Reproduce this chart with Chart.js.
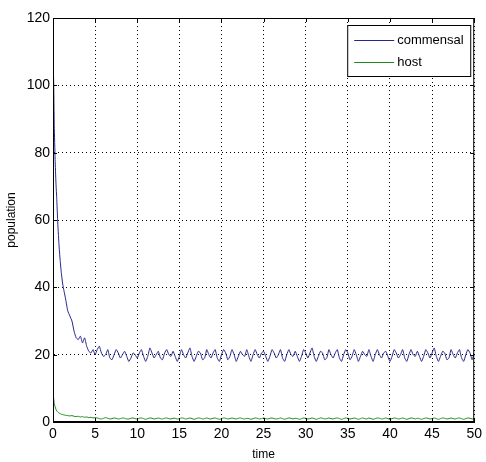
<!DOCTYPE html>
<html>
<head>
<meta charset="utf-8">
<script src="https://cdn.jsdelivr.net/npm/chart.js@4.4.1/dist/chart.umd.min.js"></script>
<style>
  html, body { margin: 0; padding: 0; background: #fff; }
  #wrap { width: 486px; height: 462px; position: relative; }
</style>
</head>
<body>
<div id="wrap"><canvas id="popChart"></canvas></div>
<script>
/* global Chart */

// sample times
const times = [
  0, 0.03, 0.08, 0.15, 0.25, 0.35, 0.45, 0.55, 0.7, 0.85, 1, 1.15, 1.3, 1.5, 1.75, 2, 2.25, 2.5, 2.75, 3, 3.25, 3.5, 3.75, 4, 4.25, 4.5, 4.75, 5,
  5.25, 5.5, 5.75, 6, 6.25, 6.5, 6.75, 7, 7.25, 7.5, 7.75, 8, 8.25, 8.5, 8.75, 9, 9.25, 9.5, 9.75, 10,
  10.25, 10.5, 10.75, 11, 11.25, 11.5, 11.75, 12, 12.25, 12.5, 12.75, 13, 13.25, 13.5, 13.75, 14, 14.25, 14.5, 14.75, 15,
  15.25, 15.5, 15.75, 16, 16.25, 16.5, 16.75, 17, 17.25, 17.5, 17.75, 18, 18.25, 18.5, 18.75, 19, 19.25, 19.5, 19.75, 20,
  20.25, 20.5, 20.75, 21, 21.25, 21.5, 21.75, 22, 22.25, 22.5, 22.75, 23, 23.25, 23.5, 23.75, 24, 24.25, 24.5, 24.75, 25,
  25.25, 25.5, 25.75, 26, 26.25, 26.5, 26.75, 27, 27.25, 27.5, 27.75, 28, 28.25, 28.5, 28.75, 29, 29.25, 29.5, 29.75, 30,
  30.25, 30.5, 30.75, 31, 31.25, 31.5, 31.75, 32, 32.25, 32.5, 32.75, 33, 33.25, 33.5, 33.75, 34, 34.25, 34.5, 34.75, 35,
  35.25, 35.5, 35.75, 36, 36.25, 36.5, 36.75, 37, 37.25, 37.5, 37.75, 38, 38.25, 38.5, 38.75, 39, 39.25, 39.5, 39.75, 40,
  40.25, 40.5, 40.75, 41, 41.25, 41.5, 41.75, 42, 42.25, 42.5, 42.75, 43, 43.25, 43.5, 43.75, 44, 44.25, 44.5, 44.75, 45,
  45.25, 45.5, 45.75, 46, 46.25, 46.5, 46.75, 47, 47.25, 47.5, 47.75, 48, 48.25, 48.5, 48.75, 49, 49.25, 49.5, 49.75, 50
]

const commensal = [
  96, 105, 101, 88, 78, 71, 66, 60, 53, 48, 44, 41, 39, 36.5, 33, 31.5, 30, 27, 25, 24.5, 25.5, 23.5, 25, 22.5, 21, 20.5, 21.5, 20,
  21.5, 22.5, 20.5, 19.5, 20, 21.5, 19, 18.5, 20, 21.5, 20.5, 19, 20, 21, 19.5, 18, 19, 20.5, 20, 19,
  20.5, 21.5, 19.5, 18, 19.5, 22, 20.5, 19, 20, 21, 19, 18.5, 20.5, 21.5, 20, 19.5, 21, 19.5, 18, 19.5,
  21.5, 20, 19, 20.5, 22, 19.5, 18, 19.5, 21, 20.5, 18.5, 19, 21.5, 20, 19, 20.5, 21.5, 19, 18, 20,
  21.5, 20.5, 18.5, 19.5, 21.5, 20, 18, 19.5, 21, 20, 19.5, 21.5, 19.5, 18, 20, 21.5, 20, 19, 20.5, 21,
  19.5, 18, 19.5, 21.5, 20.5, 19, 20, 21.5, 19, 18, 20, 21.5, 20, 19.5, 21, 19.5, 18, 19.5, 21.5, 20.5,
  19, 20.5, 22, 19.5, 18, 19.5, 21, 20.5, 18.5, 19, 21.5, 20, 19, 20.5, 21.5, 19, 18, 20, 21.5, 20.5,
  18.5, 19.5, 21.5, 20, 18, 19.5, 21, 20, 19.5, 21.5, 19.5, 18, 20, 21.5, 20, 19, 20.5, 21, 19.5, 18,
  19.5, 21.5, 20.5, 19, 20, 21.5, 19, 18, 20, 21.5, 20, 19.5, 21, 19.5, 18, 19.5, 21.5, 20.5, 19, 20.5,
  22, 19.5, 18, 19.5, 21, 20.5, 18.5, 19, 21.5, 20, 19, 20.5, 21.5, 19, 18, 20, 21.5, 20.5, 18.5, 20.5
]

const host = [
  10, 8.5, 7, 5.5, 4.5, 3.8, 3.3, 3, 2.7, 2.5, 2.3, 2.2, 2.1, 2, 1.9, 1.8, 1.9, 1.7, 1.6, 1.7, 1.5, 1.6, 1.4, 1.5, 1.3, 1.4, 1.2, 1.3,
  1.2, 1, 0.9, 1.1, 1.3, 1.1, 0.9, 1, 1.2, 1.1, 0.9, 1, 1.2, 1.1, 0.9, 0.9, 1.1, 1.2, 1, 0.9,
  1.1, 1.2, 1, 0.8, 1, 1.2, 1.1, 0.9, 1, 1.2, 1, 0.9, 1.1, 1.2, 1, 0.9, 1.1, 1.1, 0.9, 1,
  1.2, 1.1, 0.9, 1, 1.2, 1, 0.8, 1, 1.2, 1.1, 0.9, 1, 1.2, 1, 0.9, 1.1, 1.2, 1, 0.8, 1,
  1.2, 1.1, 0.9, 1, 1.2, 1, 0.9, 1.1, 1.2, 1, 0.9, 1.1, 1, 0.8, 1, 1.2, 1.1, 0.9, 1, 1.2,
  1, 0.9, 1.1, 1.2, 1, 0.9, 1, 1.2, 1, 0.8, 1, 1.2, 1.1, 0.9, 1.1, 1, 0.8, 1, 1.2, 1.1,
  0.9, 1, 1.2, 1, 0.8, 1, 1.2, 1.1, 0.9, 1, 1.2, 1, 0.9, 1.1, 1.2, 1, 0.8, 1, 1.2, 1.1,
  0.9, 1, 1.2, 1, 0.8, 1, 1.2, 1, 0.9, 1.2, 1, 0.8, 1, 1.2, 1.1, 0.9, 1, 1.2, 1, 0.8,
  1, 1.2, 1.1, 0.9, 1, 1.2, 1, 0.8, 1, 1.2, 1.1, 0.9, 1.1, 1, 0.8, 1, 1.2, 1.1, 0.9, 1,
  1.2, 1, 0.8, 1, 1.2, 1.1, 0.9, 1, 1.2, 1, 0.9, 1.1, 1.2, 1, 0.8, 1, 1.2, 1.1, 0.9, 1
]

const seriesNames = ['commensal', 'host']
const xTicks = [0, 5, 10, 15, 20, 25, 30, 35, 40, 45, 50]
const yTicks = [0, 20, 40, 60, 80, 100, 120]

const FONT = "'Liberation Sans', Arial, sans-serif"

function toPoints (values) {
  return values.map((v, i) => ({ x: times[i], y: v }))
}

// matlab style frame, inward ticks and legend box
const matlabFrame = {
  id: 'matlabFrame',
  afterDatasetsDraw (chart) {
    const { ctx, chartArea: a, scales } = chart
    ctx.save()
    ctx.strokeStyle = '#000'
    ctx.lineWidth = 1
    ctx.strokeRect(a.left + 0.5, a.top + 0.5, a.right - a.left - 1, a.bottom - a.top - 1)

    ctx.beginPath()
    xTicks.forEach(v => {
      const px = Math.round(scales.x.getPixelForValue(v)) + 0.5
      ctx.moveTo(px, a.bottom); ctx.lineTo(px, a.bottom - 4)
      ctx.moveTo(px, a.top); ctx.lineTo(px, a.top + 4)
    })
    yTicks.forEach(v => {
      const py = Math.round(scales.y.getPixelForValue(v)) + 0.5
      ctx.moveTo(a.left, py); ctx.lineTo(a.left + 4, py)
      ctx.moveTo(a.right, py); ctx.lineTo(a.right - 4, py)
    })
    ctx.stroke()

    // legend
    const bx = a.right - 127
    const by = a.top + 7
    const bw = 123
    const bh = 51
    ctx.fillStyle = '#fff'
    ctx.fillRect(bx, by, bw, bh)
    ctx.strokeRect(bx + 0.5, by + 0.5, bw, bh)
    ctx.font = '13px ' + FONT
    ctx.textBaseline = 'middle'
    chart.data.datasets.forEach((ds, i) => {
      const ly = by + 15 + i * 22
      ctx.strokeStyle = ds.borderColor
      ctx.beginPath()
      ctx.moveTo(bx + 7, ly + 0.5)
      ctx.lineTo(bx + 47, ly + 0.5)
      ctx.stroke()
      ctx.fillStyle = '#000'
      ctx.fillText(ds.label, bx + 50, ly)
    })
    ctx.restore()
  }
}

const ctx = document.getElementById('popChart').getContext('2d')
new Chart(ctx, {
  type: 'line',
  data: {
    datasets: [
      {
        label: seriesNames[0],
        data: toPoints(commensal),
        borderColor: '#26268a',
        borderWidth: 1,
        pointRadius: 0,
        tension: 0.15
      },
      {
        label: seriesNames[1],
        data: toPoints(host),
        borderColor: '#1e8a1e',
        borderWidth: 1,
        pointRadius: 0,
        tension: 0.15
      }
    ]
  },
  options: {
    responsive: true,
    maintainAspectRatio: false,
    animation: false,
    layout: { padding: { top: 18, right: 6, left: 0, bottom: 0 } },
    plugins: {
      legend: { display: false },
      tooltip: { enabled: false }
    },
    scales: {
      x: {
        type: 'linear',
        min: 0,
        max: 50,
        afterBuildTicks: scale => { scale.ticks = xTicks.map(v => ({ value: v })) },
        afterFit: scale => { scale.height = 40 },
        ticks: { color: '#000', padding: 4, font: { family: FONT, size: 14 }, maxRotation: 0 },
        grid: { color: '#000', lineWidth: 1, drawTicks: false },
        border: { display: true, color: '#000', dash: [1, 3] },
        title: { display: true, text: 'time', color: '#000', font: { family: FONT, size: 12 }, padding: { top: 0, bottom: 0 } }
      },
      y: {
        min: 0,
        max: 120,
        afterBuildTicks: scale => { scale.ticks = yTicks.map(v => ({ value: v })) },
        afterFit: scale => { scale.width = 53 },
        ticks: { color: '#000', padding: 3, font: { family: FONT, size: 14 } },
        grid: { color: '#000', lineWidth: 1, drawTicks: false },
        border: { display: true, color: '#000', dash: [1, 3] },
        title: { display: true, text: 'population', color: '#000', font: { family: FONT, size: 12 }, padding: { top: 4, bottom: 0 } }
      }
    }
  },
  plugins: [matlabFrame]
})
</script>
</body>
</html>
